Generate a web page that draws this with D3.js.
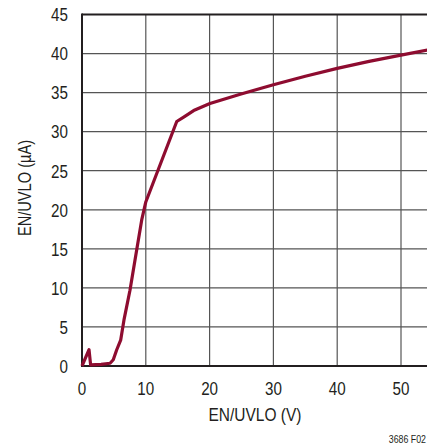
<!DOCTYPE html>
<html><head><meta charset="utf-8">
<script src="https://cdn.jsdelivr.net/npm/d3@7"></script>
<style>body{margin:0;background:#fff}svg{display:block}text{font-family:"Liberation Sans Narrow","Arial Narrow","Liberation Sans",sans-serif;fill:#231f20}</style>
</head><body>
<script>
const xVals = [0,1.1,1.35,3,4.4,4.9,5.43,6.06,6.58,7.52,8.57,9.36,10,14.85,16,17.5,20.05,24.8,30,35,40,45,50,54.5];
const yVals = [0,2.1,0.15,0.2,0.35,0.8,2.05,3.3,5.9,9.7,14.85,18.7,21,31.3,31.9,32.7,33.6,34.8,36,37.1,38.1,39,39.8,40.5];
const xTicks = [0,10,20,30,40,50];
const yTicks = [0,5,10,15,20,25,30,35,40,45];
const W=427,H=445,SX=0.8,FS=19;
const svg=d3.select("body").append("svg").attr("width",W).attr("height",H);
const x=d3.scaleLinear().domain([0,60]).range([82,82+63.8*6]);
const y=d3.scaleLinear().domain([0,45]).range([366,14.5]);
const g=svg.append("g");
// grid
g.selectAll(".vg").data(xTicks.slice(1).concat([60])).enter().append("line")
 .attr("x1",d=>x(d)).attr("x2",d=>x(d)).attr("y1",y(0)).attr("y2",y(45))
 .attr("stroke","#555").attr("stroke-width",1.2);
g.selectAll(".hg").data(yTicks.slice(1,-1)).enter().append("line")
 .attr("x1",x(0)).attr("x2",W).attr("y1",d=>y(d)).attr("y2",d=>y(d))
 .attr("stroke","#555").attr("stroke-width",1.2);
// frame
g.append("line").attr("x1",x(0)).attr("x2",x(0)).attr("y1",y(0)+1).attr("y2",y(45)-1).attr("stroke","#231f20").attr("stroke-width",2);
g.append("line").attr("x1",x(0)).attr("x2",W).attr("y1",y(0)).attr("y2",y(0)).attr("stroke","#231f20").attr("stroke-width",2);
g.append("line").attr("x1",x(0)).attr("x2",W).attr("y1",y(45)).attr("y2",y(45)).attr("stroke","#231f20").attr("stroke-width",2);
// tick labels
g.selectAll(".yt").data(yTicks).enter().append("text")
 .attr("transform",d=>`translate(68,${y(d)+6.8}) scale(${SX},1)`).attr("text-anchor","end").attr("font-size",FS).text(d=>d);
g.selectAll(".xt").data(xTicks).enter().append("text")
 .attr("transform",d=>`translate(${x(d)},395) scale(${SX},1)`).attr("text-anchor","middle").attr("font-size",FS).text(d=>d);
svg.append("text").attr("transform","translate(255,421) scale(0.815,1)").attr("text-anchor","middle").attr("font-size",FS).text("EN/UVLO (V)");
svg.append("text").attr("transform","translate(31,188) rotate(-90) scale(0.77,1)").attr("text-anchor","middle").attr("font-size",FS).text("EN/UVLO (µA)");
svg.append("text").attr("transform","translate(426,443) scale(0.8,1)").attr("text-anchor","end").attr("font-size",11).text("3686 F02");
// curve
const data=xVals.map((v,i)=>[v,yVals[i]]);
svg.append("path").datum(data).attr("fill","none").attr("stroke","#8e0c30").attr("stroke-width",3.2)
 .attr("stroke-linejoin","round").attr("d",d3.line().x(d=>x(d[0])).y(d=>y(d[1])));
</script>
</body></html>
